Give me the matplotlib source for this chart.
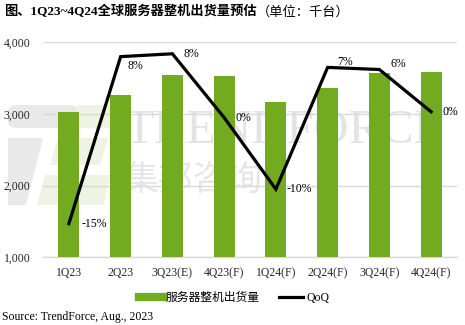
import matplotlib
matplotlib.use("Agg")
import matplotlib.pyplot as plt
from matplotlib.lines import Line2D
from matplotlib.patches import Polygon, FancyBboxPatch

# ---- data ----
categories = ["1Q23", "2Q23", "3Q23(E)", "4Q23(F)", "1Q24(F)", "2Q24(F)", "3Q24(F)", "4Q24(F)"]
shipments = [3030, 3270, 3550, 3530, 3160, 3360, 3570, 3590]
qoq = [-15.3, 8.0, 8.4, -0.5, -10.5, 6.5, 6.2, 0.3]
qoq_labels = ["-15%", "8%", "8%", "0%", "-10%", "7%", "6%", "0%"]
yticks = [1000, 2000, 3000, 4000]
ytick_labels = ["1,000", "2,000", "3,000", "4,000"]

# ---- styles ----
label_offsets = [(9, 0), (5, -7), (8, 0), (8, 0), (8, 0), (7, 4), (8, 4), (8, 0)]
BAR = "#72AB1F"
SERIF_CJK = ["Liberation Serif", "Noto Sans CJK SC"]

fig = plt.figure(figsize=(4.65, 3.25), dpi=100)
W, H = 465, 325
ax = fig.add_axes([43 / W, 1 - 257.3 / H, (457 - 43) / W, (257.3 - 42.3) / H])


def fx(px):
    return px / W


def fy(py):
    return 1 - py / H


# ---- watermark (drawn inside ax, below grid and bars) ----
wm_gray = "#E9E9E9"
wm_green = "#EEF3E3"
TF = fig.transFigure
wm = [
    FancyBboxPatch((fx(8), fy(128)), fx(70), 23 / H, boxstyle="round,pad=0,rounding_size=0.02",
                   transform=TF, fc=wm_gray, ec="none"),
    Polygon([(fx(78), fy(105)), (fx(118), fy(105)), (fx(118), fy(128)), (fx(72), fy(128))],
            closed=True, transform=TF, fc=wm_green, ec="none"),
    Polygon([(fx(8), fy(138)), (fx(43), fy(138)), (fx(26), fy(205)), (fx(8), fy(205))],
            closed=True, transform=TF, fc=wm_gray, ec="none"),
    Polygon([(fx(58), fy(138)), (fx(108), fy(138)), (fx(100), fy(165)), (fx(50), fy(165))],
            closed=True, transform=TF, fc=wm_green, ec="none"),
    Polygon([(fx(45), fy(175)), (fx(110), fy(175)), (fx(104), fy(205)), (fx(37), fy(205))],
            closed=True, transform=TF, fc=wm_green, ec="none"),
]
for p in wm:
    p.set_zorder(0.5)
    p.set_clip_on(False)
    ax.add_artist(p)
ax.text(fx(124), fy(131), "TRENDFORCE", transform=TF, family="Liberation Serif", fontsize=35,
        color="#E3E3E3", ha="left", va="center", zorder=0.6, clip_on=False)
ax.text(fx(124), fy(180), "集邦咨询", transform=TF, family="Noto Sans CJK SC", fontsize=25,
        color="#E6E6E6", ha="left", va="center", zorder=0.6, clip_on=False)

# ---- bars ----
x = list(range(len(categories)))
ax.bar(x, shipments, width=0.41, color=BAR, zorder=3)
ax.set_ylim(1000, 4000)
ax.set_xlim(-0.5, len(categories) - 0.5)
ax.set_yticks(yticks)
ax.set_yticklabels(ytick_labels)
ax.set_xticks(x)
ax.set_xticklabels(categories)
ax.grid(axis="y", color="#D9D9D9", linewidth=1, zorder=1)
for s in ["left", "right", "top"]:
    ax.spines[s].set_visible(False)
ax.spines["bottom"].set_color("#D9D9D9")
ax.spines["bottom"].set_linewidth(1)
ax.tick_params(axis="both", length=0, labelsize=8.5, labelcolor="#262626")
ax.tick_params(axis="y", pad=9)
ax.tick_params(axis="x", pad=7)
for lab in ax.get_xticklabels() + ax.get_yticklabels():
    lab.set_family("Liberation Serif")

# ---- QoQ line ----
ax2 = ax.twinx()
ax2.set_ylim(-20, 10)
ax2.plot(x, qoq, color="black", linewidth=2.3, zorder=5, solid_joinstyle="miter")
ax2.axis("off")
for xi, v, lab, off in zip(x, qoq, qoq_labels, label_offsets):
    ax2.annotate(lab, (xi, v), xytext=off, textcoords="offset points",
                 ha="left", va="center", fontsize=8.5, family="Liberation Serif", color="black")

# ---- title ----
t1 = fig.text(fx(4), fy(12), "图、1Q23~4Q24全球服务器整机出货量预估", family=SERIF_CJK,
              fontsize=9.5, weight="bold", ha="left", va="center")
fig.add_artist(plt.Annotation("（单位：千台）", xy=(1, 0.5), xycoords=t1, va="center", ha="left",
                              family="Noto Sans CJK SC", fontsize=9.5))

# ---- legend ----
handles = [Line2D([0], [0], color=BAR, linewidth=6),
           Line2D([0], [0], color="black", linewidth=2.3)]
fig.legend(handles, ["服务器整机出货量", "QoQ"], loc="center", bbox_to_anchor=(fx(234), fy(298)),
           ncol=2, frameon=False, handlelength=2.0, handletextpad=0.3, columnspacing=1.6,
           prop={"family": SERIF_CJK, "size": 8.5})

# ---- source ----
fig.text(fx(2), fy(317), "Source: TrendForce, Aug., 2023", family="Liberation Serif",
         fontsize=8.5, ha="left", va="center")

fig.savefig("out.png", dpi=100)
